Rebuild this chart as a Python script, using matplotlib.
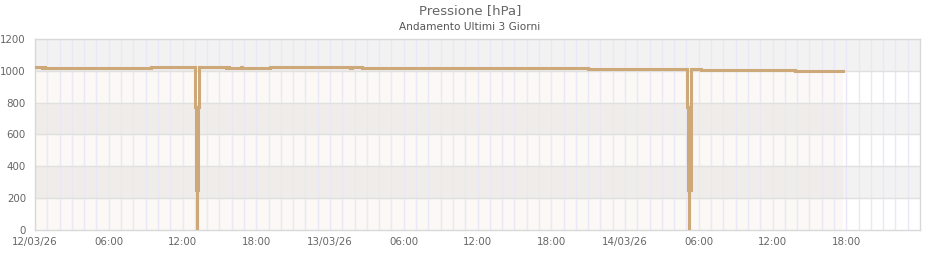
import numpy as np
import matplotlib
matplotlib.use('Agg')
import matplotlib.pyplot as plt

# ore dall'inizio (12/03/26 00:00) in cui cambia il valore, e pressione [hPa]
ore = [0.0, 0.55, 0.7, 0.8, 9.4,
       13.04, 13.12, 13.21, 13.21, 13.30, 13.37,
       15.55, 15.65, 15.75, 16.75, 16.85, 19.1, 25.6, 25.75, 26.6, 45.0,
       53.07, 53.15, 53.24, 53.24, 53.33, 53.41,
       54.2, 61.8, 65.7]
pressione = [1021, 1015, 1021, 1015, 1021,
             770, 250, 0, 250, 770, 1021,
             1015, 1021, 1015, 1021, 1015, 1021, 1015, 1021, 1015, 1009,
             770, 250, 0, 250, 760, 1009,
             1003, 997, 997]

tick_ore = [0, 6, 12, 18, 24, 30, 36, 42, 48, 54, 60, 66]
tick_label = ['12/03/26', '06:00', '12:00', '18:00', '13/03/26', '06:00',
              '12:00', '18:00', '14/03/26', '06:00', '12:00', '18:00']
y_ticks = [0, 200, 400, 600, 800, 1000, 1200]

ore = np.array(ore)
pressione = np.array(pressione)

fig = plt.figure(figsize=(9.4, 2.6), dpi=100)
ax = fig.add_axes([35 / 940, 30 / 260, 885 / 940, 191 / 260])

# fasce orizzontali alternate (1000-1200 grigia)
for i in range(len(y_ticks) - 1):
    col = 'white' if i % 2 == 0 else '#f2f2f2'
    ax.axhspan(y_ticks[i], y_ticks[i + 1], color=col, zorder=0, lw=0)

linea = '#cda878'
ax.fill_between(ore, pressione, 0, step='post', color=linea, alpha=0.07,
                lw=0, zorder=0.5)

for h in range(1, 72):
    ax.axvline(h, color='#eae8f7', lw=1, zorder=0.6)
for v in y_ticks[1:-1]:
    ax.axhline(v, color='#e0e0e0', lw=1, zorder=0.7)

ax.plot(ore, pressione, drawstyle='steps-post', color=linea, lw=2.2,
        solid_joinstyle='miter', zorder=3)

ax.set_xlim(0, 72)
ax.set_ylim(0, 1200)
ax.set_xticks(tick_ore)
ax.set_xticklabels(tick_label)
ax.set_yticks(y_ticks)
ax.tick_params(axis='both', length=0, labelsize=7.4, colors='#666666')
ax.tick_params(axis='y', pad=6.5)
ax.tick_params(axis='x', pad=5)
for s in ax.spines.values():
    s.set_color('#d8d8d8')
    s.set_linewidth(1)

fig.text(0.5, 1 - 11 / 260, 'Pressione [hPa]', ha='center', va='center',
         fontsize=9.5, color='#666666')
fig.text(0.5, 1 - 27 / 260, 'Andamento Ultimi 3 Giorni', ha='center',
         va='center', fontsize=7.6, color='#555555')

fig.savefig('out.png', dpi=100)
